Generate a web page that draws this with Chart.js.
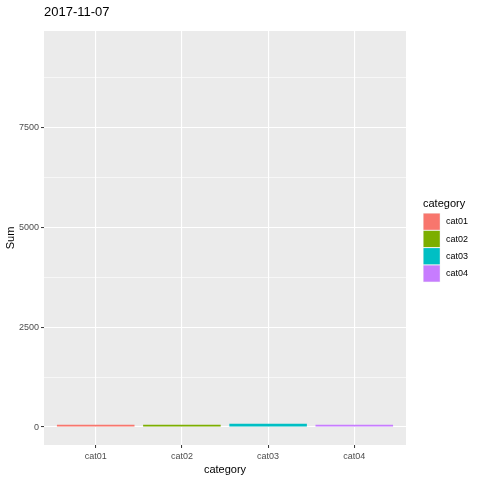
<!DOCTYPE html>
<html>
<head>
<meta charset="utf-8">
<script src="https://cdn.jsdelivr.net/npm/chart.js@4/dist/chart.umd.min.js"></script>
<style>
  html, body { margin: 0; padding: 0; background: #fff; }
  #wrap { width: 480px; height: 480px; }
</style>
</head>
<body>
<div id="wrap"><canvas id="chart" width="480" height="480"></canvas></div>
<script>
// data
const chartTitle = '2017-11-07'
const categories = ['cat01', 'cat02', 'cat03', 'cat04']
const sums = [60, 58, 80, 55]
const barColors = ['#F8766D', '#7CAE00', '#00BFC4', '#C77CFF']
const yTicks = [0, 1250, 2500, 3750, 5000, 6250, 7500, 8750]
const yMin = -450
const yMax = 9920

const FONT = '"Liberation Sans", Arial, sans-serif'

const isMajor = v => v % 2500 === 0

// ggplot-ish panel, titles and legend
const ggPlugin = {
  id: 'ggPlugin',
  beforeDraw(chart) {
    const { ctx, chartArea: a } = chart
    ctx.save()
    ctx.fillStyle = '#EBEBEB'
    ctx.fillRect(a.left, a.top, a.right - a.left, a.bottom - a.top)
    ctx.restore()
  },
  afterDraw(chart) {
    const { ctx, chartArea: a } = chart
    ctx.save()
    ctx.fillStyle = '#000'
    ctx.textBaseline = 'middle'

    // plot title
    ctx.font = '13px ' + FONT
    ctx.textAlign = 'left'
    ctx.fillText(chartTitle, a.left, 12)

    // axis titles
    ctx.font = '11px ' + FONT
    ctx.textAlign = 'center'
    ctx.fillText('category', (a.left + a.right) / 2, 470)
    ctx.save()
    ctx.translate(10.5, (a.top + a.bottom) / 2)
    ctx.rotate(-Math.PI / 2)
    ctx.fillText('Sum', 0, 0)
    ctx.restore()

    // legend
    ctx.textAlign = 'left'
    ctx.fillText('category', 423, 204)
    ctx.font = '9px ' + FONT
    categories.forEach((c, i) => {
      const y = 213 + i * 17.3
      ctx.fillStyle = '#F2F2F2'
      ctx.fillRect(423, y, 17.3, 17.3)
      ctx.fillStyle = barColors[i]
      ctx.fillRect(423.5, y + 0.5, 16.3, 16.3)
      ctx.fillStyle = '#000'
      ctx.fillText(c, 446, y + 9)
    })
    ctx.restore()
  }
}

new Chart(document.getElementById('chart'), {
  type: 'bar',
  data: {
    datasets: [{
      label: 'Sum',
      data: sums.map((v, i) => ({ x: i + 1, y: v })),
      backgroundColor: barColors,
      borderWidth: 0,
      barPercentage: 0.9,
      categoryPercentage: 1.0
    }]
  },
  options: {
    responsive: false,
    animation: false,
    layout: { padding: { left: 0, top: 31, right: 74, bottom: 0 } },
    plugins: {
      legend: { display: false },
      title: { display: false },
      tooltip: { enabled: false }
    },
    scales: {
      x: {
        type: 'linear',
        min: 0.4,
        max: 4.6,
        offset: false,
        border: { display: false },
        afterBuildTicks(scale) {
          scale.ticks = categories.map((c, i) => ({ value: i + 1 }))
        },
        grid: {
          offset: false,
          color: '#FFFFFF',
          lineWidth: 1.1,
          tickColor: '#333333',
          tickLength: 3,
          tickWidth: 1
        },
        ticks: {
          color: '#4D4D4D',
          font: { family: FONT, size: 9 },
          padding: 3,
          autoSkip: false,
          maxRotation: 0,
          callback: v => categories[v - 1] || ''
        },
        afterFit(scale) { scale.height = 35 }
      },
      y: {
        min: yMin,
        max: yMax,
        border: { display: false },
        afterBuildTicks(scale) {
          scale.ticks = yTicks.map(v => ({ value: v }))
        },
        grid: {
          color: '#FFFFFF',
          lineWidth: c => isMajor(c.tick.value) ? 1.1 : 0.6,
          tickColor: c => isMajor(c.tick.value) ? '#333333' : 'rgba(0,0,0,0)',
          tickLength: 3,
          tickWidth: 1
        },
        ticks: {
          color: '#4D4D4D',
          font: { family: FONT, size: 9 },
          padding: 2,
          autoSkip: false,
          callback: v => isMajor(v) ? String(v) : ''
        },
        afterFit(scale) { scale.width = 44 }
      }
    }
  },
  plugins: [ggPlugin]
})
</script>
</body>
</html>
